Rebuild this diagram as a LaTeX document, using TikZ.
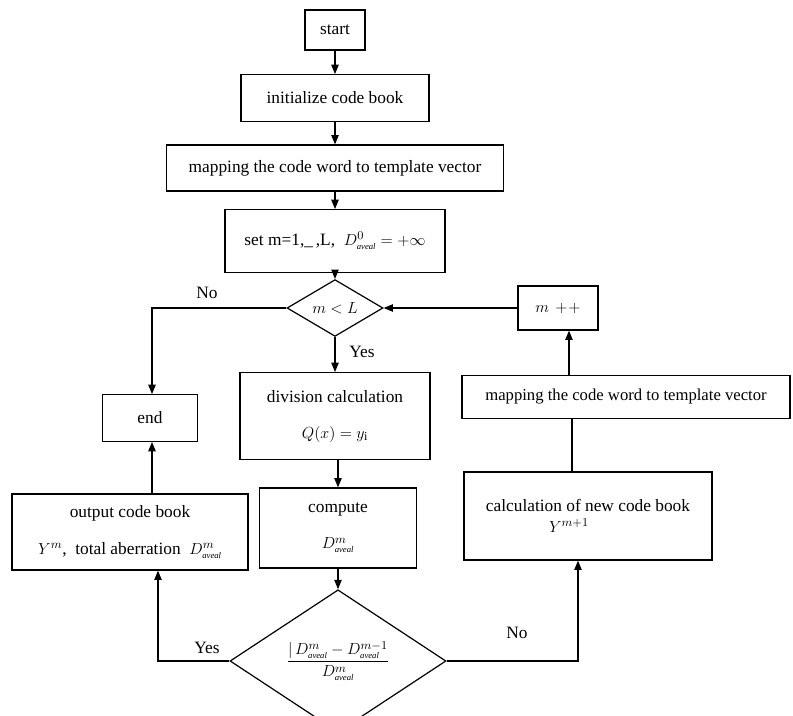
\documentclass[tikz,border=0pt]{standalone}
\usepackage{fontspec}
\setmainfont{Liberation Serif}
\usetikzlibrary{shapes.geometric,arrows.meta}
\tikzset{
  box/.style={draw, line width=0.9pt, rectangle, inner sep=2pt, align=center, font=\fontsize{13}{15}\selectfont},
  dia/.style={draw, line width=0.9pt, diamond, inner sep=0pt, font=\fontsize{13}{15}\selectfont},
  conn/.style={line width=0.9pt},
  arr/.style={conn, -{Triangle[length=7pt,width=5.5pt]}},
  lab/.style={font=\fontsize{13}{15}\selectfont, inner sep=1pt}
}
\newcommand{\sub}{{\scriptscriptstyle\mathit{aveal}}}
\begin{document}
\begin{tikzpicture}[x=0.75pt,y=-0.75pt]
\useasboundingbox (0,0) rectangle (793,715);
% centre column
\node[box, minimum width=45pt, minimum height=30pt] (start) at (335,30) {start};
\node[box, minimum width=141pt, minimum height=35pt] (init) at (335,98) {initialize code book};
\node[box, minimum width=253pt, minimum height=34.5pt] (map1) at (335,168) {mapping the code word to template vector};
\node[box, minimum width=165pt, minimum height=47pt] (set) at (335,241) {set m=1,\_\,,L,\ \ $D^{0}_{\sub}=+\infty$};
\node[dia, minimum width=72pt, minimum height=39pt] (d1) at (335,308) {$m<L$};
\node[box, minimum width=142.5pt, minimum height=65pt] (div) at (335,416) {division calculation\\[12pt]$Q(x)=y_{\mathrm{i}}$};
\node[box, minimum width=118pt, minimum height=60pt] (comp) at (338,528) {compute\\[12pt]$D^{m}_{\sub}$};
\node[dia, minimum width=162pt, minimum height=81pt] (d2) at (338,661) {$\displaystyle\frac{|\,D^{m}_{\sub}-D^{m-1}_{\sub}}{D^{m}_{\sub}}$};
% left column
\node[box, minimum width=71pt, minimum height=35pt] (end) at (150,418) {end};
\node[box, minimum width=177pt, minimum height=57pt] (out) at (130,532) {output code book\\[13pt]$Y^{m}$,\ \ total aberration\ \ $D^{m}_{\sub}$};
% right column
\node[box, minimum width=60pt, minimum height=33pt] (mpp) at (558,308) {$m\,+\!+$};
\node[box, minimum width=246pt, minimum height=32pt, font=\fontsize{12.5}{15}\selectfont] (map2) at (626,397) {mapping the code word to template vector};
\node[box, minimum width=186pt, minimum height=66pt] (calc) at (588,516) {calculation of new code book\\[1pt]$Y^{m+1}$\hspace*{2.2em}};
% coordinates
\coordinate (nol) at (152,308);
\coordinate (yesl) at (158,661);
\coordinate (nor) at (578,661);
% connectors
\draw[arr] (start) -- (init);
\draw[arr] (init) -- (map1);
\draw[arr] (map1) -- (set);
\draw[arr] (set) -- (d1);
\draw[arr] (d1) -- (div);
\draw[arr] (div.south -| comp.north) -- (comp.north);
\draw[arr] (comp) -- (d2);
\draw[arr] (d1.west) -- (nol) -- (nol |- end.north);
\draw[arr] (out.north -| nol) -- (nol |- end.south);
\draw[arr] (d2.west) -- (yesl) -- (yesl |- out.south);
\draw[arr] (d2.east) -- (nor) -- (nor |- calc.south);
\draw[conn] (calc.north -| 572,0) -- (map2.south -| 572,0);
\draw[arr] (map2.north -| 569,0) -- (mpp.south -| 569,0);
\draw[arr] (mpp.west) -- (d1.east);
% labels
\node[lab] (lno1) at (207,293) {No};
\node[lab] (lyes1) at (362,352) {Yes};
\node[lab] (lyes2) at (207,648) {Yes};
\node[lab] (lno2) at (517,633) {No};
\end{tikzpicture}
\end{document}
